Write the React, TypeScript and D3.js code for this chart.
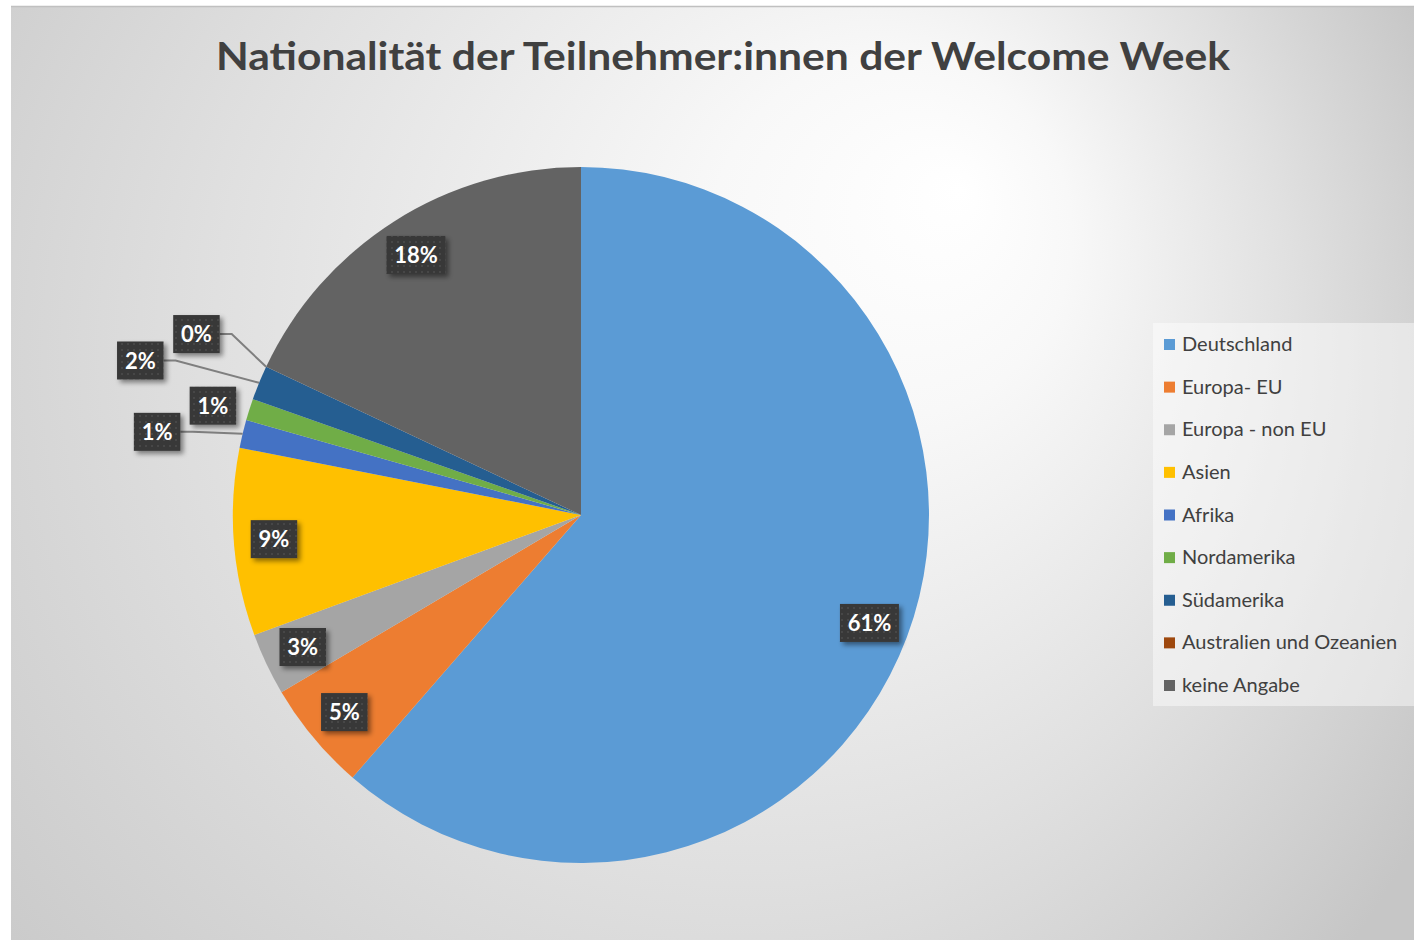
import React from 'react';
import * as d3 from 'd3';

// Nationalität der Teilnehmer:innen (Anteile in %)
const categories = [
  'Deutschland',
  'Europa- EU',
  'Europa - non EU',
  'Asien',
  'Afrika',
  'Nordamerika',
  'Südamerika',
  'Australien und Ozeanien',
  'keine Angabe',
];
const shares = [61.4, 5.1, 2.9, 8.7, 1.3, 1.0, 1.6, 0, 18.0];
const colors = ['#5B9BD5', '#ED7D31', '#A5A5A5', '#FFC000', '#4472C4', '#70AD47', '#255E91', '#9E480E', '#636363'];

// small slices get their label outside: distance from centre and angle shift (deg), null = inside
const outsideLabelRadius = [null, null, null, null, 432, 384, 467, 425, null];
const outsideLabelShift = [0, 0, 0, 0, -2.4, -1.1, -3, 0, 0];
const leaderLines = [false, false, false, false, true, false, true, true, false];

const W = 1414;
const H = 940;
const cx = 581;
const cy = 515;
const R = 348;
const fontFamily = 'Lato, "Open Sans", "DejaVu Sans", sans-serif';

const App = () => {
  const total = d3.sum(shares);
  const pieGen = d3.pie<number>().sort(null).value((d) => d);
  const arcs = pieGen(shares);
  const sliceArc = d3.arc<d3.PieArcDatum<number>>().innerRadius(0).outerRadius(R);
  const labelArc = d3.arc<d3.PieArcDatum<number>>().innerRadius(R * 0.885).outerRadius(R * 0.885);
  const edgeArc = d3.arc<d3.PieArcDatum<number>>().innerRadius(R).outerRadius(R);

  const legendY = d3.scalePoint<string>().domain(categories).range([344, 685]);

  const polar = (a: number, r: number) => [Math.sin(a) * r, -Math.cos(a) * r];

  return (
    <svg width={W} height={H} style={{ position: 'absolute', left: 0, top: 0, display: 'block' }}>
      <defs>
        <radialGradient id="bg" gradientUnits="userSpaceOnUse" cx={620} cy={420} r={900} fx={960} fy={190}>
          <stop offset="0" stopColor="#ffffff" />
          <stop offset="0.2" stopColor="#f8f8f8" />
          <stop offset="0.6" stopColor="#e0e0e0" />
          <stop offset="1" stopColor="#c6c6c6" />
        </radialGradient>
        <pattern id="dots" width="6" height="6" patternUnits="userSpaceOnUse">
          <rect width="6" height="6" fill="#383838" />
          <circle cx="3" cy="3" r="0.9" fill="#4c4c4c" />
        </pattern>
        <filter id="shadow" x="-20%" y="-20%" width="150%" height="160%">
          <feDropShadow dx="3" dy="3" stdDeviation="2.5" floodColor="#000" floodOpacity="0.45" />
        </filter>
      </defs>

      <rect x={0} y={0} width={W} height={H} fill="#ffffff" />
      <rect x={11} y={6} width={W - 11} height={H - 6} fill="url(#bg)" />
      <line x1={11} x2={W} y1={6.5} y2={6.5} stroke="#c0c0c0" strokeWidth={1.5} />

      <text x={723} y={70} textAnchor="middle" fontFamily={fontFamily} fontWeight={700} fontSize={39}
        fill="#404040" textLength={1014} lengthAdjust="spacingAndGlyphs">
        Nationalität der Teilnehmer:innen der Welcome Week
      </text>

      <g transform={`translate(${cx},${cy})`}>
        {arcs.map((a, i) => (
          <path key={categories[i]} d={sliceArc(a) || ''} fill={colors[i]} />
        ))}

        {arcs.map((a, i) => {
          const mid = (a.startAngle + a.endAngle) / 2;
          const label = `${Math.round((a.value / total) * 100)}%`;
          const bw = (label.length - 1) * 12.5 + 18 + 16;
          const bh = 38;
          let x: number;
          let y: number;
          if (outsideLabelRadius[i] != null) {
            [x, y] = polar(mid + (outsideLabelShift[i] * Math.PI) / 180, outsideLabelRadius[i] as number);
          } else {
            [x, y] = labelArc.centroid(a);
          }
          let leader = null;
          if (leaderLines[i]) {
            const [ex, ey] = polar(mid, R);
            const sx = x + bw / 2;
            const kx = Math.min(sx + 12, ex);
            leader = (
              <polyline points={`${sx},${y} ${kx},${y} ${ex},${ey}`} fill="none" stroke="#7f7f7f" strokeWidth={2} />
            );
          }
          return (
            <g key={'l' + i}>
              {leader}
              <rect x={x - bw / 2} y={y - bh / 2} width={bw} height={bh} fill="url(#dots)" filter="url(#shadow)" />
              <text x={x} y={y + 8} textAnchor="middle" fontFamily={fontFamily} fontWeight={700} fontSize={22} fill="#ffffff">
                {label}
              </text>
            </g>
          );
        })}
      </g>

      <rect x={1153} y={323} width={W - 1153} height={383} fill="#ffffff" fillOpacity={0.45} />
      {categories.map((c, i) => {
        const y = legendY(c) as number;
        return (
          <g key={'lg' + c}>
            <rect x={1164} y={y - 5} width={11} height={11} fill={colors[i]} />
            <text x={1182} y={y + 7} fontFamily={fontFamily} fontSize={20} fill="#404040">
              {c}
            </text>
          </g>
        );
      })}
    </svg>
  );
};

export default App;
